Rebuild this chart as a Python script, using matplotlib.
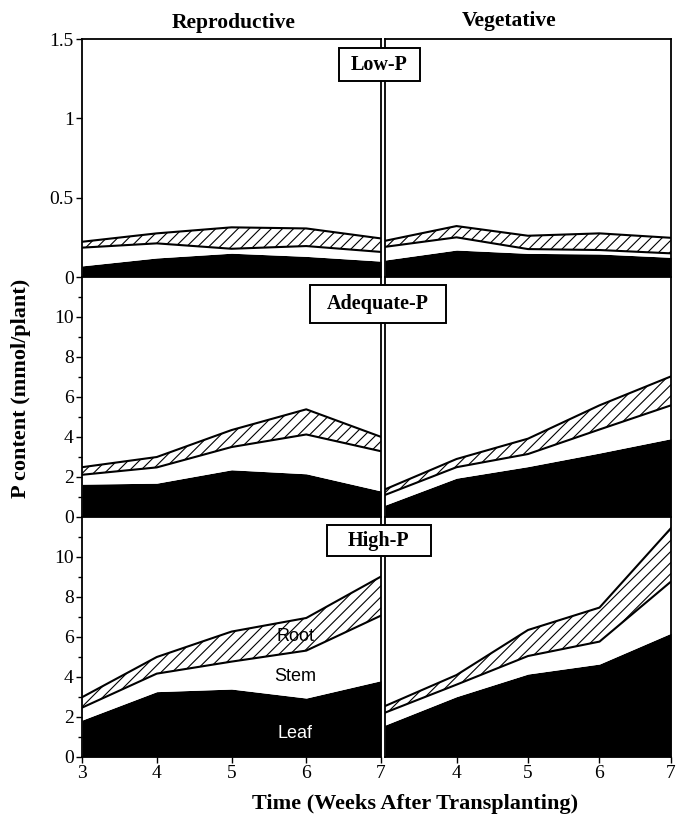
import numpy as np
import matplotlib
matplotlib.use("Agg")
import matplotlib.pyplot as plt
from matplotlib.patches import Rectangle

plt.rcParams['font.family'] = ['Liberation Serif', 'DejaVu Serif']
plt.rcParams['hatch.linewidth'] = 0.8

weeks = [3, 4, 5, 6, 7]
phases = ["Reproductive", "Vegetative"]
levels = ["Low-P", "Adequate-P", "High-P"]

# P content per organ (mmol/plant)
low_rep_leaf = [0.07, 0.12, 0.15, 0.13, 0.10]
low_rep_stem = [0.115, 0.092, 0.028, 0.065, 0.058]
low_rep_root = [0.037, 0.063, 0.135, 0.111, 0.085]

low_veg_leaf = [0.107, 0.17, 0.149, 0.145, 0.124]
low_veg_stem = [0.083, 0.08, 0.027, 0.025, 0.025]
low_veg_root = [0.038, 0.071, 0.084, 0.105, 0.098]

adq_rep_leaf = [1.62, 1.67, 2.34, 2.14, 1.28]
adq_rep_stem = [0.47, 0.79, 1.14, 1.97, 1.99]
adq_rep_root = [0.38, 0.52, 0.85, 1.26, 0.72]

adq_veg_leaf = [0.57, 1.92, 2.5, 3.18, 3.9]
adq_veg_stem = [0.51, 0.55, 0.63, 1.18, 1.67]
adq_veg_root = [0.28, 0.41, 0.77, 1.21, 1.45]

high_rep_leaf = [1.83, 3.25, 3.38, 2.93, 3.8]
high_rep_stem = [0.62, 0.9, 1.37, 2.37, 3.25]
high_rep_root = [0.52, 0.83, 1.5, 1.63, 1.95]

high_veg_leaf = [1.58, 3.0, 4.13, 4.63, 6.17]
high_veg_stem = [0.62, 0.6, 0.9, 1.12, 2.58]
high_veg_root = [0.33, 0.48, 1.3, 1.7, 2.67]

rows = [
    [(low_rep_leaf, low_rep_stem, low_rep_root), (low_veg_leaf, low_veg_stem, low_veg_root)],
    [(adq_rep_leaf, adq_rep_stem, adq_rep_root), (adq_veg_leaf, adq_veg_stem, adq_veg_root)],
    [(high_rep_leaf, high_rep_stem, high_rep_root), (high_veg_leaf, high_veg_stem, high_veg_root)],
]

fig = plt.figure(figsize=(6.76, 8.21), dpi=100)

W, H = 676.0, 821.0
col_px = [(82, 381), (385, 671)]
row_px = [(39, 277), (277, 516.5), (516.5, 756.7)]
# label boxes: left, top, right, bottom in pixels
box_px = [(339, 48, 420, 81), (310, 285, 446, 323), (327, 525, 431, 556)]

axes = []
for r in range(3):
    for c in range(2):
        x0, x1 = col_px[c]
        y0, y1 = row_px[r]
        ax = fig.add_axes([x0 / W, 1 - y1 / H, (x1 - x0) / W, (y1 - y0) / H])
        leaf, stem, root = [np.array(v) for v in rows[r][c]]
        stem_top = leaf + stem
        root_top = stem_top + root
        ax.fill_between(weeks, 0, leaf, color='black', lw=0)
        ax.fill_between(weeks, leaf, stem_top, color='white', lw=0)
        ax.fill_between(weeks, stem_top, root_top, facecolor='white',
                        edgecolor='black', hatch='///', lw=0)
        ax.plot(weeks, stem_top, color='black', lw=1.5)
        ax.plot(weeks, root_top, color='black', lw=1.5)
        ax.set_xlim(3, 7)
        if r == 0:
            ax.set_ylim(0, 1.5)
        else:
            ax.set_ylim(0, 12)
        for s in ax.spines.values():
            s.set_linewidth(1.3)
        ax.tick_params(direction='out', labelsize=14, width=1, length=4, pad=2)
        ax.tick_params(which='minor', direction='out', width=1, length=3)
        if c == 0:
            if r == 0:
                ax.set_yticks([0, 0.5, 1, 1.5])
                ax.set_yticklabels(["0", "0.5", "1", "1.5"])
            else:
                ax.set_yticks([0, 2, 4, 6, 8, 10])
                ax.set_yticks([1, 3, 5, 7, 9, 11], minor=True)
        else:
            ax.set_yticks([])
        if r == 2:
            if c == 0:
                ax.set_xticks([3, 4, 5, 6, 7])
            else:
                ax.set_xticks([4, 5, 6, 7])
        else:
            ax.set_xticks([])
        axes.append(ax)

# organ labels on the High-P reproductive panel
ax = axes[4]
ax.text(5.85, 6.0, "Root", family='Liberation Sans', fontsize=13, ha='center', va='center')
ax.text(5.85, 4.0, "Stem", family='Liberation Sans', fontsize=13, ha='center', va='center')
ax.text(5.85, 1.15, "Leaf", family='Liberation Sans', fontsize=13, ha='center', va='center',
        color='white')

for lvl, (bl, bt, br, bb) in zip(levels, box_px):
    fig.patches.append(Rectangle((bl / W, 1 - bb / H), (br - bl) / W, (bb - bt) / H,
                                 transform=fig.transFigure, fc='white', ec='black',
                                 lw=1.4, zorder=5))
    fig.text((bl + br) / 2 / W, 1 - (bt + bb) / 2 / H, lvl, fontsize=14.5,
             fontweight='bold', ha='center', va='center', zorder=6)

fig.text(234 / W, 1 - 23 / H, phases[0], fontsize=15.5, fontweight='bold', ha='center', va='center')
fig.text(509 / W, 1 - 21 / H, phases[1], fontsize=15.5, fontweight='bold', ha='center', va='center')

fig.text(415 / W, 1 - 804 / H, "Time (Weeks After Transplanting)", fontsize=16,
         fontweight='bold', ha='center', va='center')
fig.text(21 / W, 1 - 388 / H, "P content (mmol/plant)", fontsize=16, fontweight='bold',
         ha='center', va='center', rotation=90)

fig.savefig("out.png", dpi=100)
